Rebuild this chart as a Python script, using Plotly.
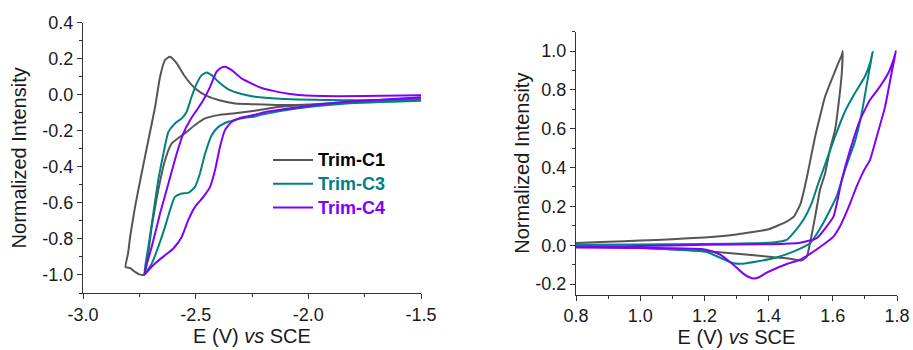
import plotly.graph_objects as go

# ---------------- Left panel (reduction CVs) ----------------
c1_red_x = [-1.50, -1.756, -1.978, -2.126, -2.237, -2.325, -2.399, -2.458, -2.503, -2.540, -2.569, -2.606,
            -2.636, -2.666, -2.695, -2.728, -2.747, -2.769, -2.790, -2.811,
            -2.800, -2.791, -2.769, -2.740, -2.710, -2.680, -2.658, -2.636, -2.614, -2.584, -2.547, -2.503,
            -2.458, -2.399, -2.325, -2.237, -2.126, -1.978, -1.756, -1.50]
c1_red_y = [-0.024, -0.039, -0.052, -0.067, -0.089, -0.103, -0.113, -0.131, -0.168, -0.206, -0.233, -0.270,
            -0.363, -0.529, -0.733, -0.998, -0.998, -0.983, -0.962, -0.956,
            -0.880, -0.790, -0.622, -0.437, -0.252, -0.067, 0.100, 0.193, 0.211, 0.174, 0.100, 0.036,
            -0.002, -0.029, -0.048, -0.053, -0.057, -0.052, -0.035, -0.017]

c3_red_x = [-1.50, -1.830, -2.052, -2.200, -2.237, -2.296, -2.355, -2.399, -2.429, -2.458, -2.481, -2.503,
            -2.533, -2.562, -2.592, -2.614, -2.636, -2.666, -2.695, -2.728,
            -2.710, -2.688, -2.666, -2.643, -2.621, -2.592, -2.562, -2.540, -2.518, -2.495, -2.473,
            -2.451, -2.429, -2.399, -2.355, -2.296, -2.237, -2.126, -1.830, -1.50]
c3_red_y = [-0.033, -0.048, -0.076, -0.108, -0.120, -0.131, -0.150, -0.178, -0.224, -0.326, -0.437, -0.511,
            -0.544, -0.548, -0.567, -0.641, -0.733, -0.844, -0.937, -0.998,
            -0.844, -0.659, -0.474, -0.326, -0.206, -0.159, -0.131, -0.094, -0.011, 0.063, 0.109,
            0.124, 0.109, 0.072, 0.030, 0.004, -0.011, -0.022, -0.030, -0.030]

c4_red_x = [-1.50, -1.830, -2.052, -2.200, -2.237, -2.296, -2.340, -2.370, -2.392, -2.414, -2.436, -2.466,
            -2.503, -2.533, -2.562, -2.599, -2.636, -2.673, -2.703, -2.728,
            -2.695, -2.658, -2.621, -2.584, -2.555, -2.525, -2.495, -2.466, -2.436, -2.407, -2.384,
            -2.370, -2.340, -2.296, -2.237, -2.200, -2.096, -1.978, -1.756, -1.50]
c4_red_y = [-0.015, -0.039, -0.070, -0.098, -0.111, -0.126, -0.150, -0.196, -0.289, -0.418, -0.511, -0.567,
            -0.622, -0.696, -0.789, -0.853, -0.891, -0.928, -0.964, -0.998,
            -0.844, -0.659, -0.492, -0.326, -0.215, -0.141, -0.085, -0.029, 0.044, 0.128, 0.152,
            0.156, 0.137, 0.091, 0.054, 0.035, 0.007, -0.006, -0.007, -0.002]

# ---------------- Right panel (oxidation CVs) ----------------
c1_ox_x = [0.80, 0.90, 1.00, 1.10, 1.20, 1.30, 1.40, 1.456, 1.48, 1.50, 1.513, 1.524, 1.545, 1.560,
           1.576, 1.596, 1.617, 1.628, 1.631,
           1.628, 1.617, 1.607, 1.591, 1.576, 1.560, 1.545, 1.529, 1.519, 1.503, 1.477, 1.415,
           1.311, 1.20, 1.10, 1.00, 0.90, 0.80]
c1_ox_y = [0.012, 0.018, 0.024, 0.031, 0.040, 0.055, 0.082, 0.122, 0.150, 0.216, 0.302, 0.388, 0.560,
           0.663, 0.766, 0.852, 0.938, 0.980, 1.000,
           0.887, 0.714, 0.594, 0.491, 0.370, 0.285, 0.147, 0.010, -0.059, -0.079, -0.072, -0.062,
           -0.045, -0.030, -0.022, -0.013, -0.007, -0.003]

c3_ox_x = [0.80, 1.00, 1.20, 1.35, 1.415, 1.456, 1.477, 1.508, 1.534, 1.555, 1.570, 1.581, 1.607,
           1.638, 1.669, 1.700, 1.716, 1.724,
           1.706, 1.690, 1.670, 1.638, 1.612, 1.570, 1.529, 1.477, 1.415, 1.363, 1.320, 1.290,
           1.259, 1.207, 1.10, 1.00, 0.90, 0.80]
c3_ox_y = [0.002, 0.004, 0.006, 0.010, 0.014, 0.027, 0.062, 0.130, 0.216, 0.320, 0.388, 0.440, 0.560,
           0.689, 0.784, 0.869, 0.938, 0.995,
           0.830, 0.680, 0.540, 0.388, 0.251, 0.113, 0.010, -0.033, -0.067, -0.084, -0.095, -0.093,
           -0.072, -0.035, -0.021, -0.015, -0.010, -0.006]

c4_ox_x = [0.80, 1.00, 1.20, 1.40, 1.498, 1.550, 1.602, 1.628, 1.654, 1.685, 1.716, 1.747, 1.773,
           1.789, 1.797,
           1.783, 1.763, 1.737, 1.716, 1.698, 1.674, 1.654, 1.622, 1.602, 1.570, 1.529, 1.498,
           1.455, 1.415, 1.390, 1.370, 1.355, 1.340, 1.320, 1.300, 1.275, 1.250, 1.220, 1.190,
           1.10, 1.00, 0.80]
c4_ox_y = [-0.010, -0.004, 0.002, 0.005, 0.013, 0.036, 0.147, 0.337, 0.491, 0.646, 0.749, 0.818, 0.887,
           0.955, 1.000,
           0.887, 0.714, 0.560, 0.440, 0.388, 0.302, 0.216, 0.096, 0.044, 0.002, -0.045, -0.075,
           -0.098, -0.125, -0.145, -0.165, -0.172, -0.165, -0.145, -0.115, -0.080, -0.050, -0.030, -0.020,
           -0.016, -0.014, -0.012]

names = ["Trim-C1", "Trim-C3", "Trim-C4"]
colors = ["#555555", "#008080", "#8000FF"]
text_colors = ["#000000", "#008080", "#8000FF"]

left_x_ticks = [-3.0, -2.5, -2.0, -1.5]
left_x_text = ["-3.0", "-2.5", "-2.0", "-1.5"]
left_y_ticks = [0.4, 0.2, 0.0, -0.2, -0.4, -0.6, -0.8, -1.0]
left_y_text = ["0.4", "0.2", "0.0", "-0.2", "-0.4", "-0.6", "-0.8", "-1.0"]
right_x_ticks = [0.8, 1.0, 1.2, 1.4, 1.6, 1.8]
right_x_text = ["0.8", "1.0", "1.2", "1.4", "1.6", "1.8"]
right_y_ticks = [1.0, 0.8, 0.6, 0.4, 0.2, 0.0, -0.2]
right_y_text = ["1.0", "0.8", "0.6", "0.4", "0.2", "0.0", "-0.2"]

fig = go.Figure()

left_data = [(c1_red_x, c1_red_y), (c3_red_x, c3_red_y), (c4_red_x, c4_red_y)]
right_data = [(c1_ox_x, c1_ox_y), (c3_ox_x, c3_ox_y), (c4_ox_x, c4_ox_y)]

for (xs, ys), nm, col, tcol in zip(left_data, names, colors, text_colors):
    fig.add_trace(go.Scatter(
        x=xs, y=ys, mode="lines", line=dict(color=col, width=2, shape="spline", smoothing=0.5),
        name=f"<span style='color:{tcol};font-size:18px'><b>{nm}</b></span>", xaxis="x", yaxis="y"))

for (xs, ys), nm, col in zip(right_data, names, colors):
    fig.add_trace(go.Scatter(
        x=xs, y=ys, mode="lines", line=dict(color=col, width=2, shape="spline", smoothing=0.4),
        name=nm, showlegend=False, xaxis="x2", yaxis="y2"))

W, H = 913, 350
FONT = "Liberation Sans, Arial"
base = dict(showline=True, linecolor="#333333", linewidth=1, ticks="outside", ticklen=5,
            tickcolor="#333333", showgrid=False, zeroline=False, automargin=False,
            tickfont=dict(family=FONT, size=18, color="#1a1a1a"))
title_font = dict(family=FONT, size=20, color="#1a1a1a")


def minor(dt, t0):
    return dict(ticks="outside", ticklen=3, tickcolor="#333333", dtick=dt, tick0=t0)


fig.update_layout(
    width=W, height=H,
    margin=dict(l=0, r=0, t=0, b=0),
    paper_bgcolor="white", plot_bgcolor="white",
    xaxis=dict(domain=[83 / W, 421 / W], range=[-3.0, -1.5], anchor="y",
               tickmode="array", tickvals=left_x_ticks, ticktext=left_x_text,
               title=dict(text="E (V) <i>vs</i> SCE", font=title_font, standoff=1),
               minor=minor(0.25, -3.0), **base),
    yaxis=dict(domain=[(H - 293) / H, (H - 22.7) / H], range=[-1.1, 0.4], anchor="x",
               tickmode="array", tickvals=left_y_ticks, ticktext=left_y_text,
               title=dict(text="Normalized Intensity", font=title_font, standoff=10),
               minor=minor(0.1, 0), **base),
    xaxis2=dict(domain=[576 / W, 897 / W], range=[0.8, 1.8], anchor="y2",
                tickmode="array", tickvals=right_x_ticks, ticktext=right_x_text,
                title=dict(text="E (V) <i>vs</i> SCE", font=title_font, standoff=1),
                minor=minor(0.1, 0.8), **base),
    yaxis2=dict(domain=[(H - 294.7) / H, (H - 31.7) / H], range=[-0.255, 1.1], anchor="x2",
                tickmode="array", tickvals=right_y_ticks, ticktext=right_y_text,
                title=dict(text="Normalized Intensity", font=title_font, standoff=0),
                minor=minor(0.1, 0), **base),
    legend=dict(x=268 / W, y=(H - 143) / H, xanchor="left", yanchor="top",
                bgcolor="rgba(0,0,0,0)", borderwidth=0,
                font=dict(family=FONT, size=16, color="#000000"),
                itemwidth=40, tracegroupgap=0),
    showlegend=True,
)

fig.write_html("out.html")
